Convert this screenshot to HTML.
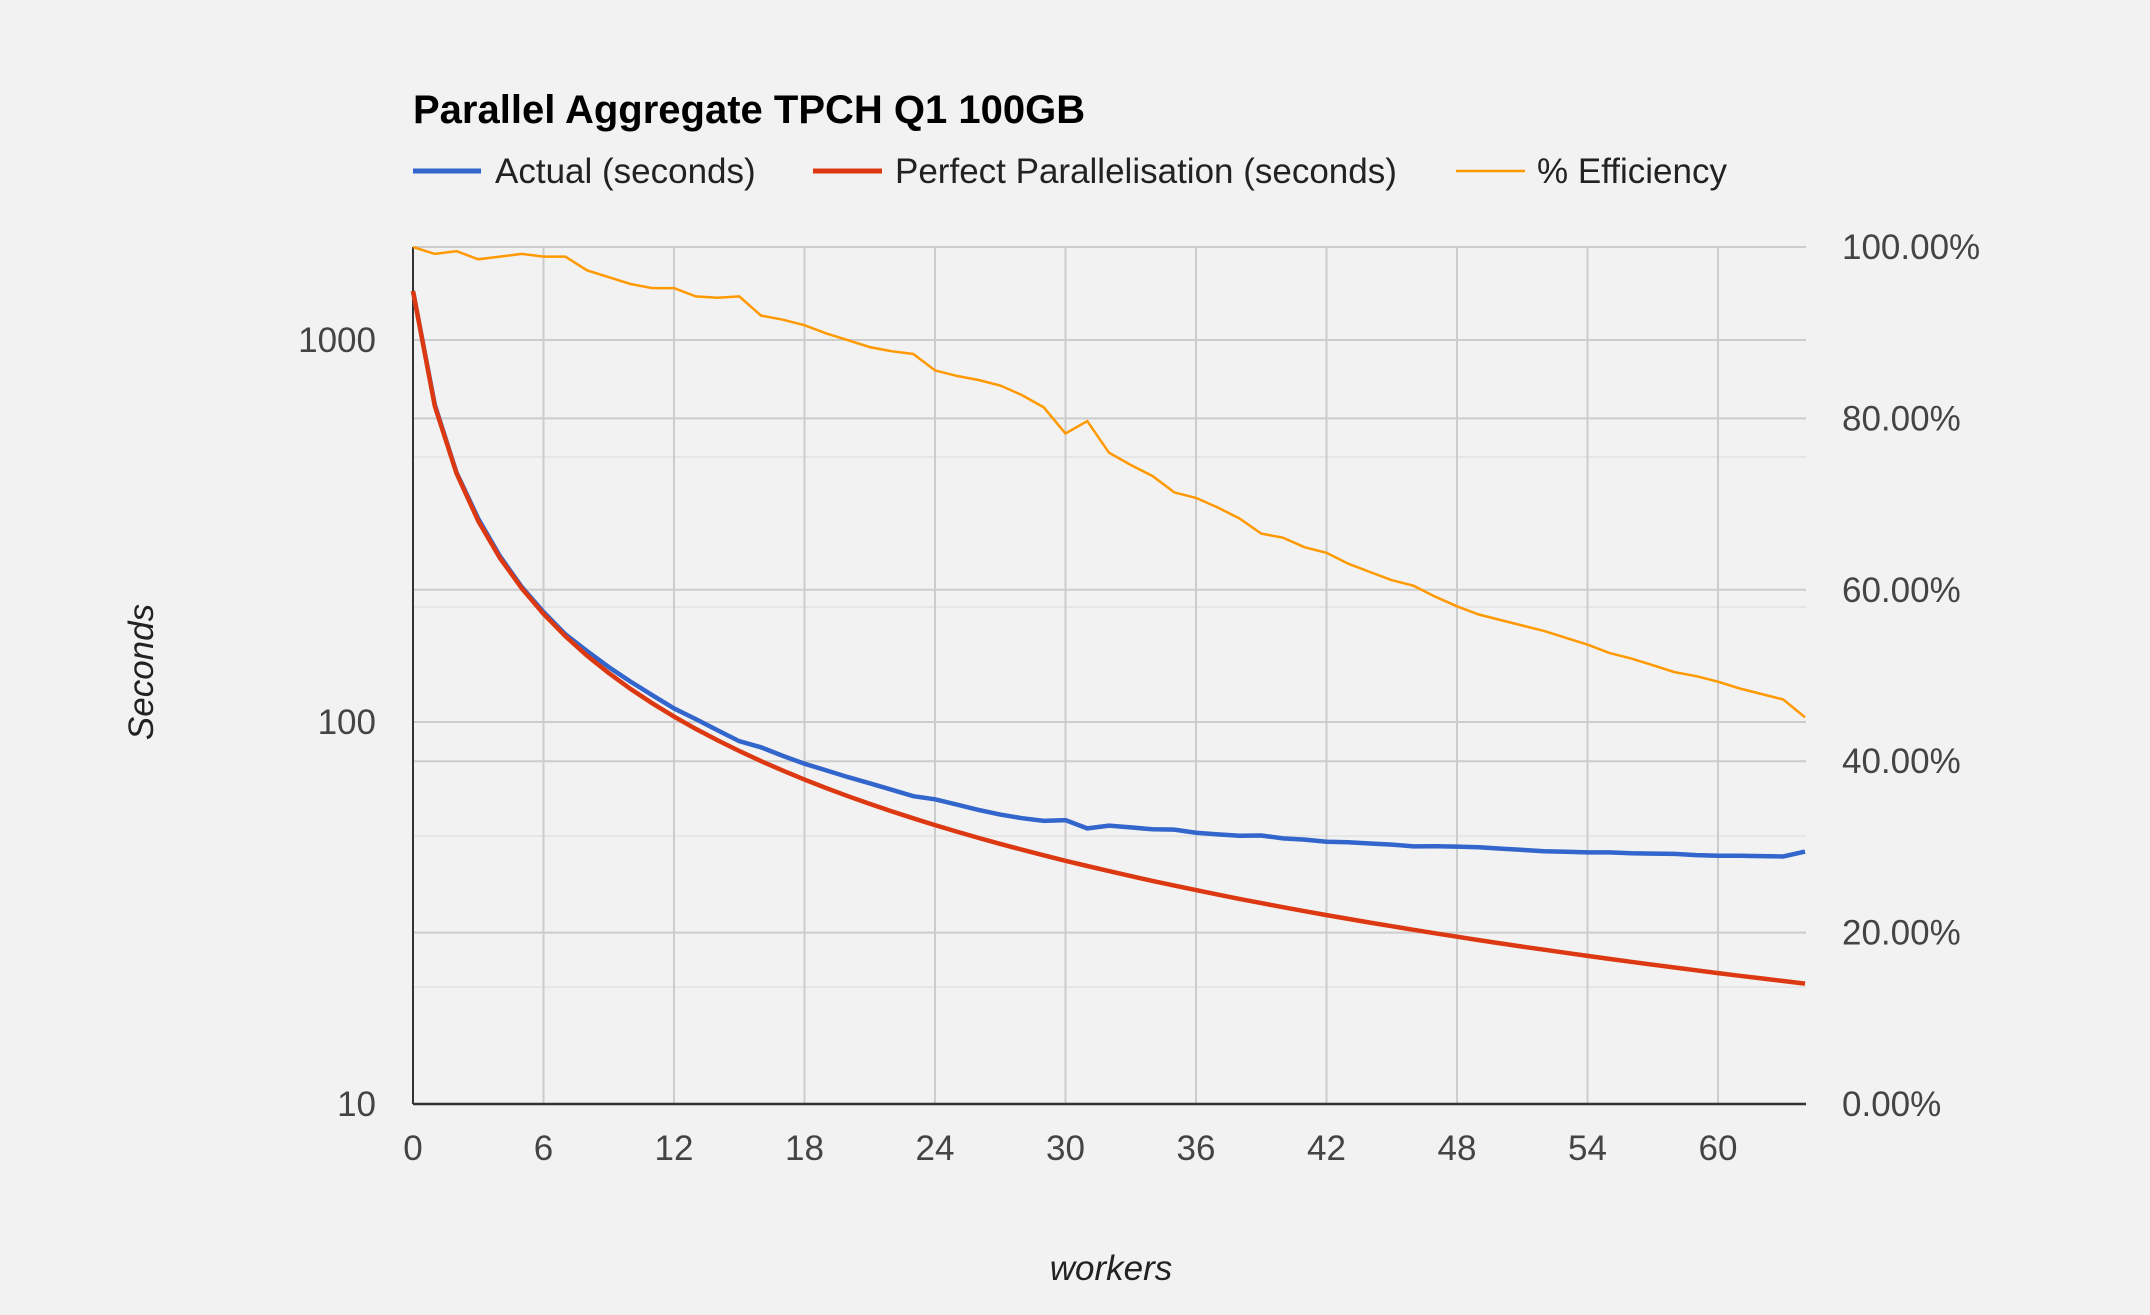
<!DOCTYPE html>
<html><head><meta charset="utf-8"><style>
html,body{margin:0;padding:0;background:#f2f2f2;}
svg{display:block;font-family:"Liberation Sans",Arial,sans-serif;}
</style></head><body>
<svg id="s" width="2150" height="1315" xmlns="http://www.w3.org/2000/svg">
<rect width="2150" height="1315" fill="#f2f2f2"/>
<g id="grid"></g>
<g id="series"></g>
<text x="413" y="123" font-size="40" font-weight="bold" fill="#000">Parallel Aggregate TPCH Q1 100GB</text>
<line x1="413" y1="171" x2="481" y2="171" stroke="#3366cc" stroke-width="5"/>
<text x="495" y="183" font-size="35" fill="#222">Actual (seconds)</text>
<line x1="813" y1="171" x2="882" y2="171" stroke="#dc3912" stroke-width="5"/>
<text x="895" y="183" font-size="35" fill="#222">Perfect Parallelisation (seconds)</text>
<line x1="1456" y1="171" x2="1525" y2="171" stroke="#ff9900" stroke-width="2.5"/>
<text x="1537" y="183" font-size="35" fill="#222">% Efficiency</text>
<g id="labels" font-size="35" fill="#444"></g>
<text x="1111" y="1280" font-size="35" font-style="italic" fill="#222" text-anchor="middle">workers</text>
<text transform="translate(153,672) rotate(-90)" font-size="35" font-style="italic" fill="#222" text-anchor="middle">Seconds</text>
</svg>
<script>
var NS="http://www.w3.org/2000/svg";
function el(p,t,a,txt){var e=document.createElementNS(NS,t);for(var k in a)e.setAttribute(k,a[k]);if(txt!=null)e.textContent=txt;document.getElementById(p).appendChild(e);return e;}
var L=413,R=1806,T=247,B=1104;
function X(w){return L+w*21.75;}
function YL(v){return B-(Math.log10(v)-1)*382;}
function YR(p){return B-(p/100)*(B-T);}
[457,607,836,987].forEach(function(y){el("grid","line",{x1:L,x2:R,y1:y,y2:y,stroke:"#e6e6e6","stroke-width":2});});
for(var i=0;i<=5;i++){var y=YR(i*20);el("grid","line",{x1:L,x2:R,y1:y,y2:y,stroke:"#cccccc","stroke-width":2});
el("labels","text",{x:1842,y:y+12},(i*20).toFixed(2)+"%");}
[1000,100].forEach(function(v){var y=YL(v);el("grid","line",{x1:L,x2:R,y1:y,y2:y,stroke:"#cccccc","stroke-width":2});});
[10,100,1000].forEach(function(v){el("labels","text",{x:376,y:YL(v)+12,"text-anchor":"end"},String(v));});
for(var w=6;w<=60;w+=6){el("grid","line",{x1:X(w),x2:X(w),y1:T,y2:B,stroke:"#cccccc","stroke-width":2});}
for(var w=0;w<=60;w+=6){el("labels","text",{x:X(w),y:1160,"text-anchor":"middle"},String(w));}
el("grid","line",{x1:L,x2:L,y1:T,y2:B,stroke:"#333","stroke-width":2});
el("grid","line",{x1:L,x2:R,y1:B,y2:B,stroke:"#333","stroke-width":2.5});
var d=[180,185,183,189,187,185,187,187,197,202,207,210,210,216,217,216,230,233,237,243,248,253,256,258,270,274,277,281,288,297,316,307,330,339,347,359,363,370,378,389,392,399,403,411,417,423,427,435,442,448,452,456,460,465,470,476,480,485,490,493,497,502,506,510,523];
var T0=1343,pe="",pa="",pp="";
for(var x=0;x<=64;x++){var eff=(805-d[x])/625;var perf=T0/(x+1);var act=perf/eff;
var c=x?"L":"M";pe+=c+X(x).toFixed(1)+","+YR(eff*100).toFixed(1);
pp+=c+X(x).toFixed(1)+","+YL(perf).toFixed(1);pa+=c+X(x).toFixed(1)+","+YL(act).toFixed(1);}
el("series","path",{d:pe,fill:"none",stroke:"#ff9900","stroke-width":2.5});
el("series","path",{d:pa,fill:"none",stroke:"#3366cc","stroke-width":4.5});
el("series","path",{d:pp,fill:"none",stroke:"#dc3912","stroke-width":4.5});
</script>
</body></html>
